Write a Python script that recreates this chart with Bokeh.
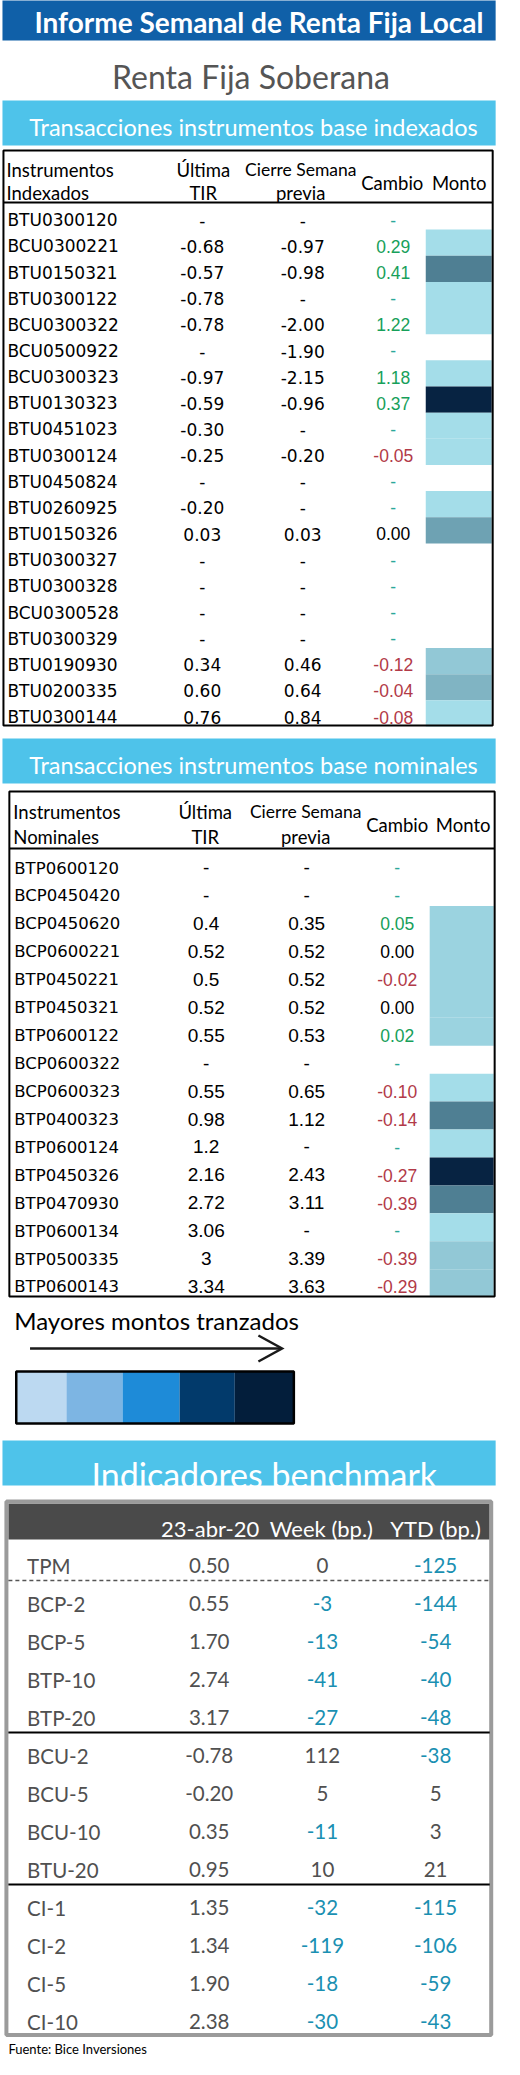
from bokeh.plotting import figure
from bokeh.models import Range1d
from bokeh.core.properties import value
from bokeh.embed import file_html
from bokeh.resources import INLINE

# ---------------- data ----------------
title = "Informe Semanal de Renta Fija Local"
subtitle = "Renta Fija Soberana"
sec_idx = "Transacciones instrumentos base indexados"
sec_nom = "Transacciones instrumentos base nominales"
sec_bm = "Indicadores benchmark"

idx_names = ["BTU0300120", "BCU0300221", "BTU0150321", "BTU0300122", "BCU0300322",
             "BCU0500922", "BCU0300323", "BTU0130323", "BTU0451023", "BTU0300124",
             "BTU0450824", "BTU0260925", "BTU0150326", "BTU0300327", "BTU0300328",
             "BCU0300528", "BTU0300329", "BTU0190930", "BTU0200335", "BTU0300144"]
idx_tir = [None, -0.68, -0.57, -0.78, -0.78, None, -0.97, -0.59, -0.30, -0.25,
           None, -0.20, 0.03, None, None, None, None, 0.34, 0.60, 0.76]
idx_prev = [None, -0.97, -0.98, None, -2.00, -1.90, -2.15, -0.96, None, -0.20,
            None, None, 0.03, None, None, None, None, 0.46, 0.64, 0.84]
idx_chg = [None, 0.29, 0.41, None, 1.22, None, 1.18, 0.37, None, -0.05,
           None, None, 0.00, None, None, None, None, -0.12, -0.04, -0.08]
idx_monto = [0, 1, 6, 1, 1, 0, 1, 7, 1, 1, 0, 1, 5, 0, 0, 0, 0, 3, 4, 1]

nom_names = ["BTP0600120", "BCP0450420", "BCP0450620", "BCP0600221", "BTP0450221",
             "BTP0450321", "BTP0600122", "BCP0600322", "BCP0600323", "BTP0400323",
             "BTP0600124", "BTP0450326", "BTP0470930", "BTP0600134", "BTP0500335",
             "BTP0600143"]
nom_tir = [None, None, 0.4, 0.52, 0.5, 0.52, 0.55, None, 0.55, 0.98, 1.2, 2.16,
           2.72, 3.06, 3, 3.34]
nom_prev = [None, None, 0.35, 0.52, 0.52, 0.52, 0.53, None, 0.65, 1.12, None,
            2.43, 3.11, None, 3.39, 3.63]
nom_chg = [None, None, 0.05, 0.00, -0.02, 0.00, 0.02, None, -0.10, -0.14, None,
           -0.27, -0.39, None, -0.39, -0.29]
nom_monto = [0, 0, 2, 2, 2, 2, 2, 0, 1, 6, 1, 7, 6, 1, 3, 3]

legend_label = "Mayores montos tranzados"

bm_headers = ["23-abr-20", "Week (bp.)", "YTD (bp.)"]
bm_labels = ["TPM", "BCP-2", "BCP-5", "BTP-10", "BTP-20", "BCU-2", "BCU-5",
             "BCU-10", "BTU-20", "CI-1", "CI-2", "CI-5", "CI-10"]
bm_level = [0.50, 0.55, 1.70, 2.74, 3.17, -0.78, -0.20, 0.35, 0.95, 1.35, 1.34, 1.90, 2.38]
bm_week = [0, -3, -13, -41, -27, 112, 5, -11, 10, -32, -119, -18, -30]
bm_ytd = [-125, -144, -54, -40, -48, -38, 5, 3, 21, -115, -106, -59, -43]

source = "Fuente: Bice Inversiones"

# ---------------- styles ----------------
monto_palette = {1: "#a4dde9", 2: "#9bd3e0", 3: "#92c8d6", 4: "#80b4c3",
                 5: "#6ea2b3", 6: "#4f7f93", 7: "#072342"}
scale_palette = ["#bcd9f1", "#7db5e3", "#1e8bd8", "#023a6b", "#031e3b"]
DARK_BLUE = "#1060a8"
LIGHT_BLUE = "#4ec3ea"
GREEN = "#17a05a"
RED = "#b23a48"
DASH_C = "#2aa89a"
GRAY = "#505050"
TEAL = "#1a90b2"
HEAD = "Lato"
LIFT = 0.15  # baseline correction, fraction of the font size

p = figure(width=504, height=2059, x_range=Range1d(0, 512), y_range=Range1d(2067, 8),
           output_backend="svg", toolbar_location=None, min_border=0,
           x_axis_location=None, y_axis_location=None)
p.grid.visible = False
p.outline_line_color = None
p.background_fill_color = "white"
p.border_fill_color = "white"


def text_glyph(x, y, t, size, color="black", font=HEAD, align="left", style="normal"):
    px = float(size.replace("px", ""))
    y = [v - LIFT * px for v in y]
    p.text(x=x, y=y, text=t, text_font=value(font), text_font_size=size,
           text_color=color, text_align=align, text_baseline="alphabetic",
           text_font_style=style, text_line_height=1.0)


def txt(x, y, t, size, color="black", font=HEAD, align="left", style="normal"):
    if not isinstance(t, list):
        x, y, t = [x], [y], [t]
    text_glyph(x, y, t, size, color, font, align, style)


def fmt2(v):
    return "-" if v is None else f"{v:.2f}"


def fmtg(v):
    return "-" if v is None else f"{v:g}"


def chg_color(v):
    if v is None:
        return DASH_C
    if v > 0:
        return GREEN
    if v < 0:
        return RED
    return "black"


# ---------------- headers ----------------
p.quad(left=2, right=503, top=0, bottom=48, fill_color=DARK_BLUE, line_color=None)
txt(262.5, 34, title, "28px", "white", align="center", style="bold")
txt(254.5, 89, subtitle, "32px", "#555555", align="center")

names_label = {sec_idx: "Indexados", sec_nom: "Nominales"}


def trans_table(banner_top, banner_text, box, hdr_line, hdr_lines, cols, row0, rh,
                names, tir, prev, chg, monto, name_size, val_font, val_size,
                val_fmt, cell_x):
    left, right, top, bottom = box
    p.quad(left=2, right=503, top=banner_top, bottom=banner_top + 45,
           fill_color=LIGHT_BLUE, line_color=None)
    txt(257, banner_top + 30, banner_text, "23.5px", "white", align="center")
    n = len(names)
    ys = [row0 + i * rh for i in range(n)]
    cl, cr, ct, cb, cc = [], [], [], [], []
    for i, m in enumerate(monto):
        if m > 0:
            cl.append(cell_x[0]); cr.append(cell_x[1])
            ct.append(ys[i] - rh / 2); cb.append(ys[i] + rh / 2)
            cc.append(monto_palette[m])
    p.quad(left=cl, right=cr, top=ct, bottom=cb, fill_color=cc, line_color=None)
    p.quad(left=left, right=right, top=top, bottom=bottom, fill_color=None,
           line_color="black", line_width=2)
    p.segment(x0=[left], y0=[hdr_line], x1=[right], y1=[hdr_line],
              line_color="black", line_width=2)
    (b1, b2, bmid) = hdr_lines
    hx = cols
    hs = "18.5px"
    txt(hx["name"], b1, "Instrumentos", hs)
    txt(hx["name"], b2, names_label[banner_text], hs)
    txt(hx["tir_h"], b1, "Última", hs, align="center")
    txt(hx["tir_h"], b2, "TIR", hs, align="center")
    txt(hx["prev_h"], b1, "Cierre Semana", "17.5px", align="center")
    txt(hx["prev_h"], b2, "previa", hs, align="center")
    txt(hx["chg_h"], bmid, "Cambio", hs, align="center")
    txt(hx["monto_h"], bmid, "Monto", hs, align="center")
    base = [y + 6.3 for y in ys]
    text_glyph([hx["name"] + 1] * n, base, names, name_size, font="DejaVu Sans")
    text_glyph([hx["tir"]] * n, base, [val_fmt(v) for v in tir], val_size,
               font=val_font, align="center")
    text_glyph([hx["prev"]] * n, base, [val_fmt(v) for v in prev], val_size,
               font=val_font, align="center")
    text_glyph([hx["chg"]] * n, base, [fmt2(v) for v in chg], "17.5px",
               color=[chg_color(v) for v in chg], font="Liberation Sans", align="center")


trans_table(108, sec_idx, (3, 500, 158, 733), 210, (180, 203, 193),
            dict(name=6, tir_h=206, prev_h=305, chg_h=398, monto_h=466,
                 tir=205, prev=307, chg=399),
            224, 26.15, idx_names, idx_tir, idx_prev, idx_chg, idx_monto,
            "17px", "DejaVu Sans", "17px", fmt2, (432, 499))

trans_table(746, sec_nom, (9, 502, 799, 1304), 856, (822, 847, 835),
            dict(name=13, tir_h=208, prev_h=310, chg_h=403, monto_h=470,
                 tir=209, prev=311, chg=403),
            871.7, 27.93, nom_names, nom_tir, nom_prev, nom_chg, nom_monto,
            "16.5px", "Liberation Sans", "19px", fmtg, (436, 501))

# ---------------- legend ----------------
txt(14, 1332, legend_label, "24px")
p.segment(x0=[30], y0=[1356], x1=[284], y1=[1356], line_color="#1a1a1a", line_width=2.5)
p.line(x=[262, 286, 262], y=[1343, 1356, 1369], line_color="#1a1a1a", line_width=2.5,
       line_join="miter")
edges = [16, 67, 124, 182, 238, 298]
p.quad(left=edges[:-1], right=edges[1:], top=[1379] * 5, bottom=[1431] * 5,
       fill_color=scale_palette, line_color=None)
p.quad(left=16, right=298, top=1379, bottom=1431, fill_color=None,
       line_color="black", line_width=2.5)

# ---------------- benchmark ----------------
p.quad(left=2, right=503, top=1448, bottom=1493, fill_color=LIGHT_BLUE, line_color=None)
txt(268, 1487, sec_bm, "34px", "white", align="center")

p.quad(left=8, right=497, top=1511, bottom=1547, fill_color="#4a4a4a", line_color=None)
p.quad(left=6, right=498.5, top=1509, bottom=2042.5, fill_color=None,
       line_color="#9b9b9b", line_width=4)
hdr_x = [213, 326, 442]
txt(hdr_x, [1539] * 3, bm_headers, "22px", "white", align="center")

nb = len(bm_labels)
bys = [1569 + 38 * i for i in range(nb)]
bbase = [y + 7.5 for y in bys]
txt([27] * nb, bbase, bm_labels, "20.5px", GRAY)
txt([212] * nb, bbase, [f"{v:.2f}" for v in bm_level], "20.5px", GRAY, align="center")
text_glyph([327] * nb, bbase, [str(v) for v in bm_week], "20.5px",
           color=[TEAL if v < 0 else GRAY for v in bm_week], align="center")
text_glyph([442] * nb, bbase, [str(v) for v in bm_ytd], "20.5px",
           color=[TEAL if v < 0 else GRAY for v in bm_ytd], align="center")

p.segment(x0=[8], y0=[(bys[0] + bys[1]) / 2], x1=[497], y1=[(bys[0] + bys[1]) / 2],
          line_color="#555555", line_width=1.5, line_dash="4 3")
sep = [(bys[4] + bys[5]) / 2, (bys[8] + bys[9]) / 2]
p.segment(x0=[8, 8], y0=sep, x1=[497, 497], y1=sep, line_color="black", line_width=2)

txt(8, 2058, source, "13px")

open("out.html", "w").write(file_html(p, INLINE))
